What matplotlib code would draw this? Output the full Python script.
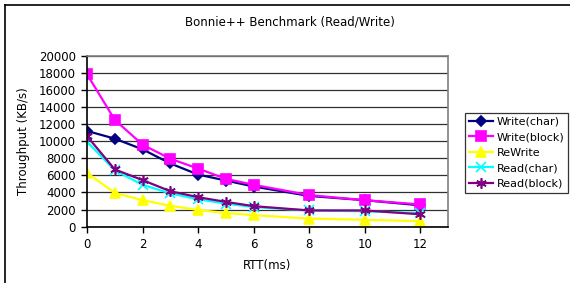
import matplotlib
matplotlib.use("Agg")
import matplotlib.pyplot as plt
from matplotlib.lines import Line2D

rtt = [0, 1, 2, 3, 4, 5, 6, 8, 10, 12]
write_char = [11200, 10300, 9050, 7400, 6100, 5400, 4700, 3600, 3100, 2500]
write_block = [17850, 12500, 9600, 7950, 6800, 5600, 4900, 3700, 3100, 2600]
rewrite = [6300, 3950, 3100, 2450, 1950, 1600, 1350, 950, 800, 650]
read_char = [9950, 6600, 4900, 3900, 3200, 2700, 2300, 1900, 1800, 1600]
read_block = [10600, 6700, 5450, 4150, 3450, 2900, 2400, 1900, 1900, 1450]
xticks = [0, 2, 4, 6, 8, 10, 12]
yticks = list(range(0, 20001, 2000))

plt.rcParams['font.family'] = ['DejaVu Sans']
fig = plt.figure(figsize=(5.70, 2.83), dpi=100)
ax = fig.add_axes([0.1526, 0.199, 0.786 - 0.1526, 0.803 - 0.199])

series = [
    ("Write(char)", write_char, "#000080", "D", 5, "#000080"),
    ("Write(block)", write_block, "#FF00FF", "s", 6.5, "#FF00FF"),
    ("ReWrite", rewrite, "#FFFF00", "^", 6.5, "#FFFF00"),
    ("Read(char)", read_char, "#00FFFF", "x", 6.5, "#00FFFF"),
    ("Read(block)", read_block, "#800080", (6, 2, 0), 7.5, "#800080"),
]
for name, vals, col, mk, ms, mc in series:
    ax.plot(rtt, vals, color=col, lw=1.6, marker=mk, ms=ms,
            mfc=mc, mec=mc, mew=1.2, label=name)

ax.set_xlim(0, 13)
ax.set_ylim(0, 20000)
ax.set_xticks(xticks)
ax.set_yticks(yticks)
ax.yaxis.grid(True, color="#303030", lw=0.9)
ax.set_axisbelow(True)
ax.tick_params(direction="out", length=4, width=1, labelsize=8.5, pad=4)
for s in ["top", "right"]:
    ax.spines[s].set_color("#808080")
    ax.spines[s].set_linewidth(1.2)
for s in ["left", "bottom"]:
    ax.spines[s].set_color("black")
    ax.spines[s].set_linewidth(1.2)

ax.set_xlabel("RTT(ms)", fontsize=8.5, labelpad=6)
ax.set_ylabel("Throughput (KB/s)", fontsize=8.5, labelpad=6)
fig.text(0.509, 0.922, "Bonnie++ Benchmark (Read/Write)", ha="center",
         va="center", fontsize=8.5)

leg = fig.legend(loc="upper left", bbox_to_anchor=(0.816, 0.602),
                 fontsize=8, frameon=True, fancybox=False, edgecolor="black",
                 handlelength=2.2, handletextpad=0.3, borderpad=0.35,
                 labelspacing=0.5, borderaxespad=0)
leg.get_frame().set_linewidth(0.9)

# outer chart border (only left and top edges fall inside the image)
fig.add_artist(Line2D([0.009, 0.009], [-0.05, 0.982], transform=fig.transFigure,
                      color="black", lw=1.2))
fig.add_artist(Line2D([0.009, 1.05], [0.982, 0.982], transform=fig.transFigure,
                      color="black", lw=1.2))
fig.savefig("out.png", dpi=100)
